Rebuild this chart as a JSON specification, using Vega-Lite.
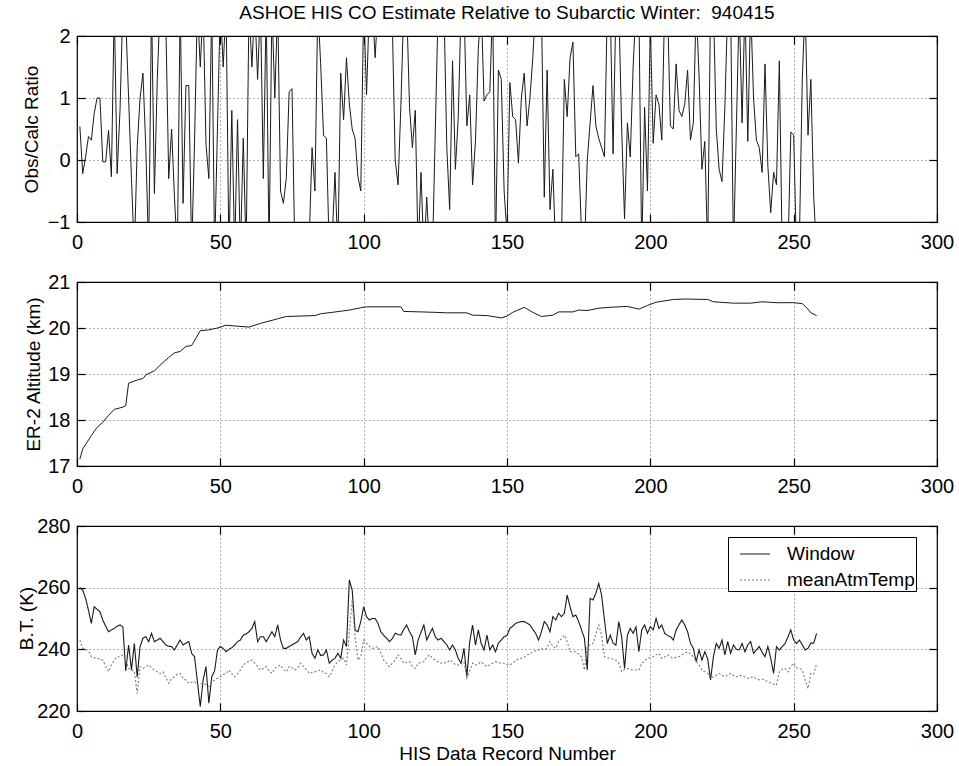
{
  "$schema": "https://vega.github.io/schema/vega-lite/v6.json",
  "background": "white",
  "padding": {"left": 16, "top": 4, "right": 5, "bottom": 5},
  "bounds": "flush",
  "spacing": 60,
  "title": {"text": "ASHOE HIS CO Estimate Relative to Subarctic Winter:\u00a0 940415", "anchor": "middle", "frame": "group", "offset": 2},
  "config": {
    "font": "Liberation Sans",
    "view": {"stroke": "#000", "strokeWidth": 1.2},
    "axis": {
      "labelFont": "Liberation Sans", "labelFontSize": 20, "labelColor": "#000",
      "titleFont": "Liberation Sans", "titleFontSize": 19, "titleFontWeight": "normal", "titleColor": "#000",
      "domain": false, "tickColor": "#000", "tickSize": -8, "tickWidth": 1.2,
      "gridColor": "#000", "gridDash": [1, 3], "gridOpacity": 0.6, "gridWidth": 1,
      "labelPadding": 15, "labelFlush": false, "labelOverlap": false
    },
    "title": {"font": "Liberation Sans", "fontSize": 19, "fontWeight": "normal", "color": "#000"}
  },
  "datasets": {
    "co": [
      {"r":1,"v":0.54},{"r":2,"v":-0.22},{"r":3,"v":0.05},{"r":4,"v":0.38},{"r":5,"v":0.32},{"r":6,"v":0.75},{"r":7,"v":1.0},{"r":8,"v":1.0},{"r":9,"v":-0.03},{"r":10,"v":-0.03},
      {"r":11,"v":0.48},{"r":12,"v":-0.27},{"r":13,"v":2.5},{"r":14,"v":-0.22},{"r":15,"v":0.8},{"r":16,"v":2.5},{"r":17,"v":2.3},{"r":18,"v":1.0},{"r":19,"v":-0.3},{"r":20,"v":-1.5},
      {"r":21,"v":0.2},{"r":22,"v":1.0},{"r":23,"v":1.4},{"r":24,"v":0.2},{"r":25,"v":-1.5},{"r":26,"v":2.5},{"r":27,"v":-0.54},{"r":28,"v":1.3},{"r":29,"v":2.5},{"r":30,"v":2.5},
      {"r":31,"v":2.2},{"r":32,"v":-0.3},{"r":33,"v":0.5},{"r":34,"v":-0.6},{"r":35,"v":-1.5},{"r":36,"v":2.5},{"r":37,"v":-0.7},{"r":38,"v":1.2},{"r":39,"v":1.2},{"r":40,"v":-1.5},
      {"r":41,"v":0.3},{"r":42,"v":2.5},{"r":43,"v":1.5},{"r":44,"v":2.5},{"r":45,"v":0.25},{"r":46,"v":-0.3},{"r":47,"v":2.5},{"r":48,"v":-1.5},{"r":49,"v":0.5},{"r":50,"v":2.5},
      {"r":51,"v":1.5},{"r":52,"v":2.5},{"r":53,"v":-1.5},{"r":54,"v":0.8},{"r":55,"v":-1.5},{"r":56,"v":0.65},{"r":57,"v":-1.5},{"r":58,"v":0.35},{"r":59,"v":-1.5},{"r":60,"v":2.5},
      {"r":61,"v":1.5},{"r":62,"v":2.5},{"r":63,"v":1.3},{"r":64,"v":2.5},{"r":65,"v":-0.3},{"r":66,"v":2.5},{"r":67,"v":-1.5},{"r":68,"v":2.5},{"r":69,"v":1.0},{"r":70,"v":2.5},
      {"r":71,"v":-0.5},{"r":72,"v":-0.7},{"r":73,"v":-0.3},{"r":74,"v":1.1},{"r":75,"v":1.15},{"r":76,"v":-1.5},{"r":77,"v":-2},{"r":78,"v":-2.5},{"r":79,"v":-2},{"r":80,"v":-1.8},
      {"r":81,"v":-1.3},{"r":82,"v":0.2},{"r":83,"v":-0.5},{"r":84,"v":2.5},{"r":85,"v":1.55},{"r":86,"v":0.4},{"r":87,"v":0.35},{"r":88,"v":-1.5},{"r":89,"v":-1.3},{"r":90,"v":-0.2},
      {"r":91,"v":-1.5},{"r":92,"v":1.4},{"r":93,"v":0.65},{"r":94,"v":1.65},{"r":95,"v":0.9},{"r":96,"v":0.5},{"r":97,"v":0.35},{"r":98,"v":-0.27},{"r":99,"v":-0.5},{"r":100,"v":2.5},
      {"r":101,"v":1.05},{"r":102,"v":2.5},{"r":103,"v":2.5},{"r":104,"v":1.65},{"r":105,"v":2.5},{"r":106,"v":3},{"r":107,"v":3.5},{"r":108,"v":3},{"r":109,"v":2.5},{"r":110,"v":2.2},
      {"r":111,"v":0},{"r":112,"v":-0.4},{"r":113,"v":0.9},{"r":114,"v":2.5},{"r":115,"v":2.5},{"r":116,"v":0.85},{"r":117,"v":0.2},{"r":118,"v":0.8},{"r":119,"v":-1.5},{"r":120,"v":-0.2},
      {"r":121,"v":-1.5},{"r":122,"v":-0.6},{"r":123,"v":-1.5},{"r":124,"v":-1.5},{"r":125,"v":0.5},{"r":126,"v":2.5},{"r":127,"v":2.5},{"r":128,"v":2.5},{"r":129,"v":0.2},{"r":130,"v":-0.8},
      {"r":131,"v":1.6},{"r":132,"v":-0.15},{"r":133,"v":0.7},{"r":134,"v":2.5},{"r":135,"v":2.5},{"r":136,"v":0.55},{"r":137,"v":1.05},{"r":138,"v":-0.4},{"r":139,"v":0.3},{"r":140,"v":1.8},
      {"r":141,"v":2.5},{"r":142,"v":0.95},{"r":143,"v":1.05},{"r":144,"v":1.1},{"r":145,"v":2.5},{"r":146,"v":-1.5},{"r":147,"v":1.45},{"r":148,"v":1.3},{"r":149,"v":-0.5},{"r":150,"v":-1.2},
      {"r":151,"v":1.25},{"r":152,"v":0.7},{"r":153,"v":0.65},{"r":154,"v":-0.05},{"r":155,"v":1.0},{"r":156,"v":1.4},{"r":157,"v":0.55},{"r":158,"v":1.0},{"r":159,"v":1.65},{"r":160,"v":2.5},
      {"r":161,"v":3},{"r":162,"v":2.5},{"r":163,"v":-0.6},{"r":164,"v":1.45},{"r":165,"v":-0.8},{"r":166,"v":-0.15},{"r":167,"v":-1.5},{"r":168,"v":-2},{"r":169,"v":-1.3},{"r":170,"v":1.3},
      {"r":171,"v":0.7},{"r":172,"v":1.65},{"r":173,"v":1.9},{"r":174,"v":0.05},{"r":175,"v":0.1},{"r":176,"v":-1.2},{"r":177,"v":-1.5},{"r":178,"v":0},{"r":179,"v":0.6},{"r":180,"v":1.2},
      {"r":181,"v":0.55},{"r":182,"v":0.35},{"r":183,"v":0.2},{"r":184,"v":0.05},{"r":185,"v":2.5},{"r":186,"v":2.5},{"r":187,"v":0.1},{"r":188,"v":2.5},{"r":189,"v":2.5},{"r":190,"v":0.5},
      {"r":191,"v":-0.95},{"r":192,"v":0.6},{"r":193,"v":0.05},{"r":194,"v":1.5},{"r":195,"v":2.5},{"r":196,"v":2.5},{"r":197,"v":-1.5},{"r":198,"v":0.85},{"r":199,"v":-0.5},{"r":200,"v":2.2},
      {"r":201,"v":0.27},{"r":202,"v":1.05},{"r":203,"v":0.9},{"r":204,"v":0.32},{"r":205,"v":2.5},{"r":206,"v":2.5},{"r":207,"v":0.55},{"r":208,"v":0.5},{"r":209,"v":1.55},{"r":210,"v":0.8},
      {"r":211,"v":0.7},{"r":212,"v":0.9},{"r":213,"v":1.45},{"r":214,"v":0.32},{"r":215,"v":0.6},{"r":216,"v":2.5},{"r":217,"v":1.35},{"r":218,"v":-0.15},{"r":219,"v":0.3},{"r":220,"v":-1.5},
      {"r":221,"v":2.5},{"r":222,"v":2.5},{"r":223,"v":0.5},{"r":224,"v":-0.15},{"r":225,"v":-0.35},{"r":226,"v":0.85},{"r":227,"v":2.5},{"r":228,"v":2.5},{"r":229,"v":-1.5},{"r":230,"v":0.5},
      {"r":231,"v":2.5},{"r":232,"v":0.6},{"r":233,"v":2.5},{"r":234,"v":0.3},{"r":235,"v":2.5},{"r":236,"v":1.0},{"r":237,"v":0.32},{"r":238,"v":0.2},{"r":239,"v":-0.2},{"r":240,"v":1.55},
      {"r":241,"v":-0.1},{"r":242,"v":-0.85},{"r":243,"v":-0.2},{"r":244,"v":-0.4},{"r":245,"v":1.6},{"r":246,"v":-1.5},{"r":247,"v":-1.2},{"r":248,"v":-1.5},{"r":249,"v":0.45},{"r":250,"v":0.4},
      {"r":251,"v":-1.5},{"r":252,"v":-1.3},{"r":253,"v":1.3},{"r":254,"v":2.5},{"r":255,"v":0.4},{"r":256,"v":1.3},{"r":257,"v":-0.6},{"r":258,"v":-1.5}
    ],
    "alt": [
      {"r":1,"v":17.15},{"r":2,"v":17.37},{"r":5,"v":17.66},{"r":7,"v":17.84},{"r":9,"v":17.95},{"r":11,"v":18.1},{"r":13,"v":18.23},{"r":16,"v":18.28},{"r":17,"v":18.31},{"r":18,"v":18.8},
      {"r":21,"v":18.87},{"r":23,"v":18.9},{"r":24,"v":18.98},{"r":27,"v":19.07},{"r":30,"v":19.25},{"r":32,"v":19.36},{"r":34,"v":19.46},{"r":36,"v":19.49},{"r":38,"v":19.6},{"r":40,"v":19.62},
      {"r":43,"v":19.94},{"r":46,"v":19.96},{"r":49,"v":20.0},{"r":52,"v":20.06},{"r":56,"v":20.04},{"r":60,"v":20.02},{"r":64,"v":20.1},{"r":70,"v":20.2},{"r":73,"v":20.25},{"r":83,"v":20.27},
      {"r":85,"v":20.31},{"r":89,"v":20.34},{"r":95,"v":20.39},{"r":99,"v":20.44},{"r":101,"v":20.46},{"r":113,"v":20.46},{"r":114,"v":20.36},{"r":120,"v":20.35},{"r":125,"v":20.34},{"r":129,"v":20.33},
      {"r":136,"v":20.33},{"r":138,"v":20.28},{"r":143,"v":20.27},{"r":148,"v":20.22},{"r":150,"v":20.26},{"r":152,"v":20.34},{"r":156,"v":20.45},{"r":159,"v":20.34},{"r":162,"v":20.25},{"r":166,"v":20.28},
      {"r":168,"v":20.35},{"r":173,"v":20.35},{"r":175,"v":20.39},{"r":178,"v":20.38},{"r":182,"v":20.43},{"r":186,"v":20.45},{"r":192,"v":20.47},{"r":196,"v":20.41},{"r":199,"v":20.49},{"r":202,"v":20.56},
      {"r":208,"v":20.62},{"r":212,"v":20.63},{"r":220,"v":20.62},{"r":222,"v":20.57},{"r":229,"v":20.54},{"r":235,"v":20.54},{"r":239,"v":20.57},{"r":244,"v":20.55},{"r":250,"v":20.55},{"r":253,"v":20.53},
      {"r":255,"v":20.41},{"r":256,"v":20.33},{"r":258,"v":20.27}
    ],
    "win": [
      {"r":1,"t":260},{"r":2,"t":259.2},{"r":3,"t":256.5},{"r":4,"t":252.7},{"r":5,"t":248.4},{"r":6,"t":253.8},{"r":7,"t":253},{"r":8,"t":252.2},{"r":9,"t":249.5},{"r":10,"t":247.5},
      {"r":11,"t":245.7},{"r":12,"t":246.3},{"r":13,"t":246.8},{"r":14,"t":247.5},{"r":15,"t":247.9},{"r":16,"t":247.3},{"r":17,"t":233},{"r":18,"t":241.4},{"r":19,"t":233.3},{"r":20,"t":241.9},
      {"r":21,"t":231},{"r":22,"t":240.9},{"r":23,"t":243.6},{"r":24,"t":244.1},{"r":25,"t":242.5},{"r":26,"t":245.2},{"r":27,"t":242.5},{"r":28,"t":243},{"r":29,"t":243.6},{"r":30,"t":242.5},
      {"r":31,"t":241.4},{"r":32,"t":241},{"r":33,"t":240.9},{"r":34,"t":239.8},{"r":35,"t":241.5},{"r":36,"t":243},{"r":37,"t":241.4},{"r":38,"t":242},{"r":39,"t":242.5},{"r":40,"t":238.7},
      {"r":41,"t":237.6},{"r":42,"t":229.5},{"r":43,"t":221.4},{"r":44,"t":230.1},{"r":45,"t":234.4},{"r":46,"t":222.5},{"r":47,"t":231.1},{"r":48,"t":233},{"r":49,"t":239.8},{"r":50,"t":240.9},
      {"r":51,"t":240.3},{"r":52,"t":239.2},{"r":53,"t":240},{"r":54,"t":240.5},{"r":55,"t":241.4},{"r":56,"t":242.5},{"r":57,"t":243},{"r":58,"t":244.6},{"r":59,"t":245},{"r":60,"t":245.7},
      {"r":61,"t":246.8},{"r":62,"t":249},{"r":63,"t":242.5},{"r":64,"t":244.1},{"r":65,"t":244.1},{"r":66,"t":242.5},{"r":67,"t":244.1},{"r":68,"t":245.7},{"r":69,"t":244.1},{"r":70,"t":247.9},
      {"r":71,"t":243},{"r":72,"t":240.3},{"r":73,"t":240.3},{"r":74,"t":240.9},{"r":75,"t":241.4},{"r":76,"t":242},{"r":77,"t":242.5},{"r":78,"t":244},{"r":79,"t":245.2},{"r":80,"t":243},
      {"r":81,"t":244.1},{"r":82,"t":238.7},{"r":83,"t":237.1},{"r":84,"t":239.8},{"r":85,"t":238},{"r":86,"t":238.2},{"r":87,"t":239.8},{"r":88,"t":235.5},{"r":89,"t":236.5},{"r":90,"t":237.1},
      {"r":91,"t":238.7},{"r":92,"t":237.1},{"r":93,"t":243},{"r":94,"t":240.9},{"r":95,"t":262.5},{"r":96,"t":259.2},{"r":97,"t":246.3},{"r":98,"t":245.7},{"r":99,"t":249},{"r":100,"t":253.8},
      {"r":101,"t":250.6},{"r":102,"t":249.5},{"r":103,"t":250},{"r":104,"t":250},{"r":105,"t":248.4},{"r":106,"t":245.7},{"r":107,"t":244.5},{"r":108,"t":243.6},{"r":109,"t":242.5},{"r":110,"t":243.5},
      {"r":111,"t":245.2},{"r":112,"t":244.8},{"r":113,"t":244.6},{"r":114,"t":246.5},{"r":115,"t":247.9},{"r":116,"t":245.7},{"r":117,"t":244.1},{"r":118,"t":238.2},{"r":119,"t":243},{"r":120,"t":245.5},
      {"r":121,"t":247.9},{"r":122,"t":243},{"r":123,"t":245},{"r":124,"t":246.8},{"r":125,"t":244},{"r":126,"t":243},{"r":127,"t":243.6},{"r":128,"t":242.5},{"r":129,"t":241.4},{"r":130,"t":239.8},
      {"r":131,"t":241.4},{"r":132,"t":239.8},{"r":133,"t":237},{"r":134,"t":235.5},{"r":135,"t":240.3},{"r":136,"t":231.1},{"r":137,"t":242.5},{"r":138,"t":247.9},{"r":139,"t":241.4},{"r":140,"t":246.3},
      {"r":141,"t":241.9},{"r":142,"t":239.8},{"r":143,"t":244.6},{"r":144,"t":239.8},{"r":145,"t":241.4},{"r":146,"t":239.2},{"r":147,"t":242},{"r":148,"t":243},{"r":149,"t":244.1},{"r":150,"t":244.5},
      {"r":151,"t":246.8},{"r":152,"t":247.5},{"r":153,"t":248.4},{"r":154,"t":248.8},{"r":155,"t":249},{"r":156,"t":249},{"r":157,"t":248.5},{"r":158,"t":247.9},{"r":159,"t":246.5},{"r":160,"t":245.2},
      {"r":161,"t":243},{"r":162,"t":245.7},{"r":163,"t":249},{"r":164,"t":247.9},{"r":165,"t":245.7},{"r":166,"t":250.6},{"r":167,"t":249.5},{"r":168,"t":251.7},{"r":169,"t":250.6},{"r":170,"t":251.7},
      {"r":171,"t":257.6},{"r":172,"t":253.8},{"r":173,"t":250.6},{"r":174,"t":251.1},{"r":175,"t":249},{"r":176,"t":246.3},{"r":177,"t":243.6},{"r":178,"t":233.3},{"r":179,"t":256.5},{"r":180,"t":256},
      {"r":181,"t":258.2},{"r":182,"t":261.4},{"r":183,"t":257.6},{"r":184,"t":249.5},{"r":185,"t":241.9},{"r":186,"t":244.6},{"r":187,"t":242},{"r":188,"t":241.4},{"r":189,"t":249},{"r":190,"t":244.1},
      {"r":191,"t":233.8},{"r":192,"t":244.6},{"r":193,"t":246.8},{"r":194,"t":245.2},{"r":195,"t":247.3},{"r":196,"t":239.2},{"r":197,"t":246.3},{"r":198,"t":247.9},{"r":199,"t":245.2},{"r":200,"t":247.3},
      {"r":201,"t":246.3},{"r":202,"t":250},{"r":203,"t":246.8},{"r":204,"t":247.9},{"r":205,"t":245.2},{"r":206,"t":244.5},{"r":207,"t":244.1},{"r":208,"t":243},{"r":209,"t":246.3},{"r":210,"t":248},
      {"r":211,"t":249.5},{"r":212,"t":247.9},{"r":213,"t":245.7},{"r":214,"t":242},{"r":215,"t":240.3},{"r":216,"t":236},{"r":217,"t":239.8},{"r":218,"t":236.5},{"r":219,"t":239.2},{"r":220,"t":237},
      {"r":221,"t":230.1},{"r":222,"t":237.6},{"r":223,"t":241.9},{"r":224,"t":240.3},{"r":225,"t":243},{"r":226,"t":238.2},{"r":227,"t":242.5},{"r":228,"t":238.7},{"r":229,"t":241.4},{"r":230,"t":240},
      {"r":231,"t":239.8},{"r":232,"t":241.9},{"r":233,"t":239.2},{"r":234,"t":241.4},{"r":235,"t":242.5},{"r":236,"t":238.7},{"r":237,"t":239.8},{"r":238,"t":240.9},{"r":239,"t":239},{"r":240,"t":237.6},
      {"r":241,"t":240.9},{"r":242,"t":237.1},{"r":243,"t":232.2},{"r":244,"t":240.9},{"r":245,"t":239.8},{"r":246,"t":240.9},{"r":247,"t":241.9},{"r":248,"t":244},{"r":249,"t":246.3},{"r":250,"t":243},
      {"r":251,"t":241.9},{"r":252,"t":243},{"r":253,"t":241.5},{"r":254,"t":239.8},{"r":255,"t":240.3},{"r":256,"t":242},{"r":257,"t":242},{"r":258,"t":245.2}
    ],
    "mat": [
      {"r":1,"t":243},{"r":2,"t":240.3},{"r":3,"t":240},{"r":4,"t":239.5},{"r":5,"t":237.6},{"r":6,"t":237.3},{"r":7,"t":237.1},{"r":8,"t":236.8},{"r":9,"t":236.5},{"r":10,"t":234.5},
      {"r":11,"t":232.8},{"r":12,"t":235},{"r":13,"t":236.5},{"r":14,"t":237.6},{"r":15,"t":237.6},{"r":16,"t":238.2},{"r":17,"t":236.5},{"r":18,"t":233.8},{"r":19,"t":233.3},{"r":20,"t":233},
      {"r":21,"t":225.7},{"r":22,"t":234.4},{"r":23,"t":233.8},{"r":24,"t":234.4},{"r":25,"t":234.9},{"r":26,"t":234},{"r":27,"t":233.3},{"r":28,"t":232.7},{"r":29,"t":232.2},{"r":30,"t":232.7},
      {"r":31,"t":231},{"r":32,"t":229},{"r":33,"t":230.5},{"r":34,"t":231.1},{"r":35,"t":232},{"r":36,"t":232.2},{"r":37,"t":230.6},{"r":38,"t":230},{"r":39,"t":229},{"r":40,"t":229.3},
      {"r":41,"t":229.5},{"r":42,"t":228.4},{"r":43,"t":228.8},{"r":44,"t":229},{"r":45,"t":228.5},{"r":46,"t":227.9},{"r":47,"t":229},{"r":48,"t":230.1},{"r":49,"t":230.6},{"r":50,"t":231.1},
      {"r":51,"t":231.8},{"r":52,"t":232.2},{"r":53,"t":233.3},{"r":54,"t":232},{"r":55,"t":231.1},{"r":56,"t":232},{"r":57,"t":233.3},{"r":58,"t":235},{"r":59,"t":235.5},{"r":60,"t":236.2},
      {"r":61,"t":236.5},{"r":62,"t":235.5},{"r":63,"t":234.5},{"r":64,"t":233.3},{"r":65,"t":233.8},{"r":66,"t":234.4},{"r":67,"t":233},{"r":68,"t":232.2},{"r":69,"t":233.8},{"r":70,"t":234.5},
      {"r":71,"t":234.9},{"r":72,"t":233.5},{"r":73,"t":232.7},{"r":74,"t":234.4},{"r":75,"t":234},{"r":76,"t":233.3},{"r":77,"t":234},{"r":78,"t":235.5},{"r":79,"t":234.5},{"r":80,"t":233.3},
      {"r":81,"t":232.2},{"r":82,"t":232.5},{"r":83,"t":232.7},{"r":84,"t":233},{"r":85,"t":233.3},{"r":86,"t":232.5},{"r":87,"t":232.2},{"r":88,"t":231.1},{"r":89,"t":233},{"r":90,"t":234.9},
      {"r":91,"t":236},{"r":92,"t":236.5},{"r":93,"t":237.1},{"r":94,"t":234.9},{"r":95,"t":245.7},{"r":96,"t":256},{"r":97,"t":244},{"r":98,"t":236.5},{"r":99,"t":237.6},{"r":100,"t":243},
      {"r":101,"t":242},{"r":102,"t":240.9},{"r":103,"t":240.3},{"r":104,"t":240.6},{"r":105,"t":240.9},{"r":106,"t":238.7},{"r":107,"t":236.5},{"r":108,"t":235.5},{"r":109,"t":234.4},{"r":110,"t":235.5},
      {"r":111,"t":236.5},{"r":112,"t":238.2},{"r":113,"t":237},{"r":114,"t":235.5},{"r":115,"t":235.8},{"r":116,"t":236},{"r":117,"t":234.5},{"r":118,"t":233.8},{"r":119,"t":235.5},{"r":120,"t":235.7},
      {"r":121,"t":236},{"r":122,"t":237.5},{"r":123,"t":238.2},{"r":124,"t":237.1},{"r":125,"t":236.5},{"r":126,"t":236},{"r":127,"t":235.5},{"r":128,"t":235.7},{"r":129,"t":235.5},{"r":130,"t":236.5},
      {"r":131,"t":236},{"r":132,"t":235},{"r":133,"t":234.9},{"r":134,"t":235.5},{"r":135,"t":236},{"r":136,"t":230.6},{"r":137,"t":233},{"r":138,"t":235.5},{"r":139,"t":234.9},{"r":140,"t":235.3},
      {"r":141,"t":236},{"r":142,"t":235},{"r":143,"t":234.4},{"r":144,"t":235},{"r":145,"t":235.5},{"r":146,"t":236},{"r":147,"t":235.7},{"r":148,"t":235.5},{"r":149,"t":235.5},{"r":150,"t":235},
      {"r":151,"t":234.9},{"r":152,"t":235.5},{"r":153,"t":236.5},{"r":154,"t":236.8},{"r":155,"t":237.1},{"r":156,"t":237.5},{"r":157,"t":238.2},{"r":158,"t":238.5},{"r":159,"t":239.2},{"r":160,"t":239.5},
      {"r":161,"t":239.8},{"r":162,"t":240.3},{"r":163,"t":239.8},{"r":164,"t":240.5},{"r":165,"t":242.5},{"r":166,"t":241},{"r":167,"t":240.3},{"r":168,"t":242.5},{"r":169,"t":243.5},{"r":170,"t":244.6},
      {"r":171,"t":242.5},{"r":172,"t":239.2},{"r":173,"t":239.2},{"r":174,"t":239.2},{"r":175,"t":238.5},{"r":176,"t":237.6},{"r":177,"t":233.3},{"r":178,"t":240.9},{"r":179,"t":241.5},{"r":180,"t":241.9},
      {"r":181,"t":245},{"r":182,"t":247.9},{"r":183,"t":244.6},{"r":184,"t":237.6},{"r":185,"t":237.3},{"r":186,"t":237.1},{"r":187,"t":236.8},{"r":188,"t":236.5},{"r":189,"t":235.5},{"r":190,"t":232.8},
      {"r":191,"t":233.5},{"r":192,"t":233.8},{"r":193,"t":233.5},{"r":194,"t":233.3},{"r":195,"t":233.3},{"r":196,"t":233.3},{"r":197,"t":235.5},{"r":198,"t":236.2},{"r":199,"t":237.1},{"r":200,"t":237.3},
      {"r":201,"t":237.6},{"r":202,"t":238.2},{"r":203,"t":238.7},{"r":204,"t":237.1},{"r":205,"t":237.5},{"r":206,"t":238.2},{"r":207,"t":237.6},{"r":208,"t":237.1},{"r":209,"t":237.4},{"r":210,"t":237.6},
      {"r":211,"t":238.2},{"r":212,"t":238.7},{"r":213,"t":239.2},{"r":214,"t":238.5},{"r":215,"t":237.6},{"r":216,"t":236},{"r":217,"t":234.9},{"r":218,"t":233.3},{"r":219,"t":232.7},{"r":220,"t":232.2},
      {"r":221,"t":230.6},{"r":222,"t":231.1},{"r":223,"t":231.6},{"r":224,"t":232.2},{"r":225,"t":231.5},{"r":226,"t":231.1},{"r":227,"t":231.6},{"r":228,"t":232.2},{"r":229,"t":231.5},{"r":230,"t":231.1},
      {"r":231,"t":231.3},{"r":232,"t":231.6},{"r":233,"t":231},{"r":234,"t":230.6},{"r":235,"t":230.9},{"r":236,"t":231.1},{"r":237,"t":230.4},{"r":238,"t":230.1},{"r":239,"t":230.3},{"r":240,"t":230},
      {"r":241,"t":229.5},{"r":242,"t":229},{"r":243,"t":228.7},{"r":244,"t":228.4},{"r":245,"t":232.7},{"r":246,"t":233.5},{"r":247,"t":233.8},{"r":248,"t":232.7},{"r":249,"t":234.5},{"r":250,"t":235.5},
      {"r":251,"t":234},{"r":252,"t":233.8},{"r":253,"t":233.3},{"r":254,"t":230},{"r":255,"t":227.3},{"r":256,"t":232.2},{"r":257,"t":232},{"r":258,"t":235.5}
    ]
  },
  "vconcat": [
    {
      "width": 860, "height": 186,
      "data": {"name": "co"},
      "layer": [
        {
          "mark": {"type": "line", "clip": true, "color": "#1a1a1a", "strokeWidth": 1},
          "encoding": {
            "x": {"field": "r", "type": "quantitative", "scale": {"domain": [0, 300], "nice": false},
                  "axis": {"values": [0, 50, 100, 150, 200, 250, 300], "title": null, "grid": true, "labelPadding": 18}},
            "y": {"field": "v", "type": "quantitative", "scale": {"domain": [-1, 2], "nice": false},
                  "axis": {"values": [-1, 0, 1, 2], "title": "Obs/Calc Ratio", "grid": true, "titleX": -46, "titleY": 93, "titleAngle": -90, "titleBaseline": "middle", "titleAlign": "center"}}
          }
        },
        {
          "mark": {"type": "line", "opacity": 0, "clip": true},
          "encoding": {
            "x": {"field": "r", "type": "quantitative", "axis": {"orient": "top", "values": [0, 50, 100, 150, 200, 250, 300], "labels": false, "grid": false, "title": null}},
            "y": {"field": "v", "type": "quantitative", "axis": {"orient": "right", "values": [-1, 0, 1, 2], "labels": false, "grid": false, "title": null}}
          }
        }
      ],
      "resolve": {"axis": {"x": "independent", "y": "independent"}}
    },
    {
      "width": 860, "height": 184,
      "data": {"name": "alt"},
      "layer": [
        {
          "mark": {"type": "line", "clip": true, "color": "#1a1a1a", "strokeWidth": 1},
          "encoding": {
            "x": {"field": "r", "type": "quantitative", "scale": {"domain": [0, 300], "nice": false},
                  "axis": {"values": [0, 50, 100, 150, 200, 250, 300], "title": null, "grid": true, "labelPadding": 18}},
            "y": {"field": "v", "type": "quantitative", "scale": {"domain": [17, 21], "nice": false},
                  "axis": {"values": [17, 18, 19, 20, 21], "title": "ER-2 Altitude (km)", "grid": true, "titleX": -44, "titleY": 92, "titleAngle": -90, "titleBaseline": "middle", "titleAlign": "center"}}
          }
        },
        {
          "mark": {"type": "line", "opacity": 0, "clip": true},
          "encoding": {
            "x": {"field": "r", "type": "quantitative", "axis": {"orient": "top", "values": [0, 50, 100, 150, 200, 250, 300], "labels": false, "grid": false, "title": null}},
            "y": {"field": "v", "type": "quantitative", "axis": {"orient": "right", "values": [17, 18, 19, 20, 21], "labels": false, "grid": false, "title": null}}
          }
        }
      ],
      "resolve": {"axis": {"x": "independent", "y": "independent"}}
    },
    {
      "width": 860, "height": 185,
      "layer": [
        {
          "data": {"name": "win"},
          "mark": {"type": "line", "clip": true, "strokeWidth": 1.1},
          "encoding": {
            "x": {"field": "r", "type": "quantitative", "scale": {"domain": [0, 300], "nice": false},
                  "axis": {"values": [0, 50, 100, 150, 200, 250, 300], "title": "HIS Data Record Number", "grid": true, "labelPadding": 18, "titlePadding": 3}},
            "y": {"field": "t", "type": "quantitative", "scale": {"domain": [220, 280], "nice": false},
                  "axis": {"values": [220, 240, 260, 280], "title": "B.T.  (K)", "grid": true, "titleX": -51, "titleY": 92, "titleAngle": -90, "titleBaseline": "middle", "titleAlign": "center"}},
            "color": {"datum": "Window", "type": "nominal", "scale": {"domain": ["Window", "meanAtmTemp"], "range": ["#1a1a1a", "#7a7a7a"]},
                      "legend": {"orient": "none", "legendX": 651, "legendY": 501, "title": null, "strokeColor": "#000", "fillColor": "white", "padding": 1,
                                 "symbolType": "stroke", "symbolSize": 900, "symbolStrokeWidth": 1.1, "symbolOffset": 10, "labelOffset": 16,
                                 "labelFontSize": 19, "labelFont": "Liberation Sans", "labelColor": "#000", "rowPadding": -8}},
            "strokeDash": {"datum": "Window", "type": "nominal", "scale": {"domain": ["Window", "meanAtmTemp"], "range": [[1, 0], [2, 2]]}, "legend": null}
          }
        },
        {
          "data": {"name": "mat"},
          "mark": {"type": "line", "clip": true, "strokeWidth": 1.1},
          "encoding": {
            "x": {"field": "r", "type": "quantitative", "axis": null},
            "y": {"field": "t", "type": "quantitative", "axis": null},
            "color": {"datum": "meanAtmTemp", "type": "nominal"},
            "strokeDash": {"datum": "meanAtmTemp", "type": "nominal"}
          }
        },
        {
          "data": {"name": "win"},
          "mark": {"type": "line", "opacity": 0, "clip": true},
          "encoding": {
            "x": {"field": "r", "type": "quantitative", "axis": {"orient": "top", "values": [0, 50, 100, 150, 200, 250, 300], "labels": false, "grid": false, "title": null}},
            "y": {"field": "t", "type": "quantitative", "axis": {"orient": "right", "values": [220, 240, 260, 280], "labels": false, "grid": false, "title": null}}
          }
        }
      ],
      "resolve": {"axis": {"x": "independent", "y": "independent"}}
    }
  ]
}
